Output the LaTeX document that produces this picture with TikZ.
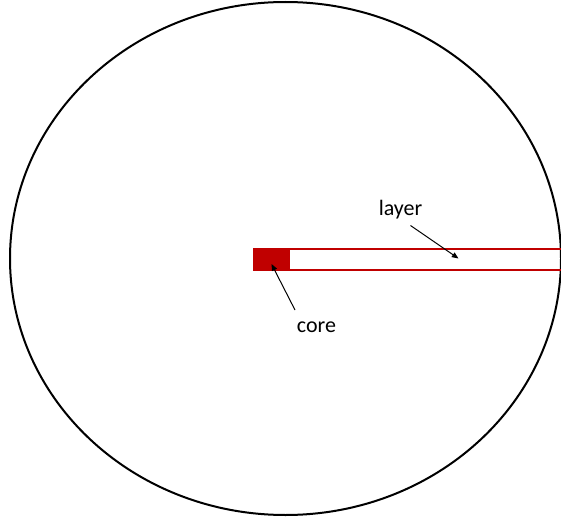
\documentclass[tikz,border=0pt]{standalone}
\usepackage{fontspec}
\setmainfont{Carlito}
\usetikzlibrary{arrows.meta,positioning}
\definecolor{darkred}{HTML}{C00000}
\begin{document}
\begin{tikzpicture}[
  x=0.75pt, y=-0.75pt, >={Triangle[length=5pt,width=4pt]},
  font=\fontsize{16.5}{19}\selectfont,
  wall/.style={draw=darkred, line width=1.5pt},
  lbl/.style={inner sep=1pt},
  pointer/.style={->, line width=0.75pt},
]
\useasboundingbox (0,0) rectangle (561,517);
\begin{scope}
\clip (0,0) rectangle (561,517);
\draw[line width=1.5pt] (285.5,258.5) ellipse [x radius=275.5, y radius=256.5];
\draw[wall] (254,248.5) rectangle (600,270);
\fill[darkred] (254,248.5) rectangle (289.5,270);
\end{scope}
\node[lbl] (layer) at (400.5,210) {layer};
\node[lbl] (core) at (316.5,327.5) {core};
\coordinate (layerfrom) at (410.5,225.5);
\coordinate (layertip) at (458.5,258.5);
\coordinate (corefrom) at (295,310);
\coordinate (coretip) at (271.5,264);
\draw[pointer] (layerfrom) -- (layertip);
\draw[pointer] (corefrom) -- (coretip);
\end{tikzpicture}
\end{document}
